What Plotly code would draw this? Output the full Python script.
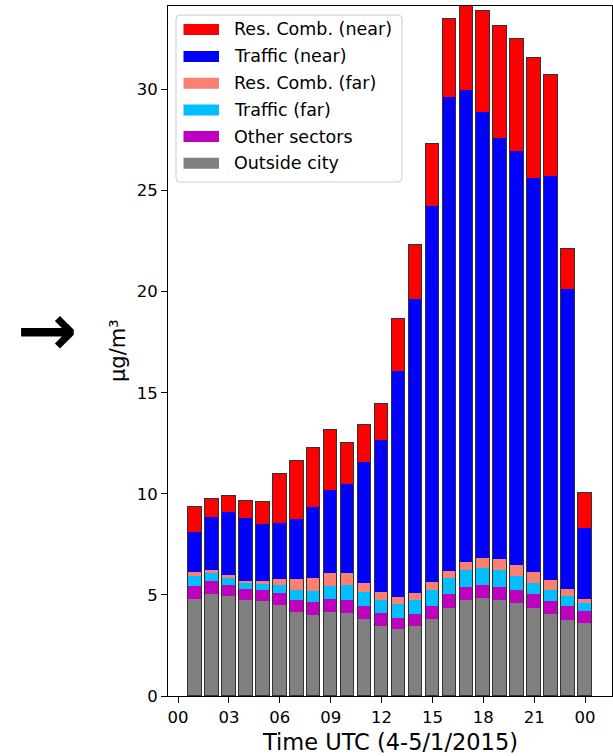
import plotly.graph_objects as go

# Hourly contributions (µg/m³) by source, hours 01..24 UTC
hours = list(range(1, 25))

outside_city = [4.82, 5.07, 4.93, 4.75, 4.70, 4.52, 4.17, 4.02, 4.16, 4.12, 3.80, 3.48,
                3.32, 3.45, 3.81, 4.36, 4.75, 4.87, 4.75, 4.62, 4.36, 4.04, 3.78, 3.60]
other_sectors = [0.63, 0.61, 0.57, 0.55, 0.53, 0.56, 0.60, 0.65, 0.64, 0.65, 0.66, 0.63,
                 0.56, 0.59, 0.65, 0.67, 0.63, 0.63, 0.66, 0.63, 0.69, 0.68, 0.66, 0.61]
traffic_far = [0.49, 0.42, 0.33, 0.28, 0.33, 0.43, 0.46, 0.54, 0.66, 0.74, 0.70, 0.66,
               0.69, 0.71, 0.80, 0.83, 0.86, 0.85, 0.81, 0.69, 0.54, 0.54, 0.53, 0.41]
res_comb_far = [0.20, 0.14, 0.16, 0.13, 0.12, 0.30, 0.55, 0.65, 0.64, 0.56, 0.45, 0.38,
                0.33, 0.36, 0.37, 0.34, 0.41, 0.50, 0.55, 0.55, 0.55, 0.47, 0.34, 0.17]
traffic_near = [1.98, 2.59, 3.09, 3.09, 2.83, 2.77, 2.98, 3.48, 4.11, 4.41, 5.96, 7.51,
                11.19, 14.51, 18.59, 23.45, 23.35, 22.03, 20.85, 20.47, 19.49, 19.98, 14.81, 3.54]
res_comb_near = [1.25, 0.91, 0.82, 0.85, 1.08, 2.39, 2.87, 2.94, 2.97, 2.04, 1.85, 1.77,
                 2.54, 2.69, 3.07, 3.83, 4.11, 5.00, 5.51, 5.56, 5.92, 5.03, 2.00, 1.73]

tick_vals = [0, 3, 6, 9, 12, 15, 18, 21, 24]
tick_text = ["00", "03", "06", "09", "12", "15", "18", "21", "00"]

# stacking order bottom -> top
series = [
    ("Outside city", outside_city, "#808080"),
    ("Other sectors", other_sectors, "#bf00bf"),
    ("Traffic (far)", traffic_far, "#00bfff"),
    ("Res. Comb. (far)", res_comb_far, "#fa8072"),
    ("Traffic (near)", traffic_near, "#0000ff"),
    ("Res. Comb. (near)", res_comb_near, "#ff0000"),
]

FONT = "DejaVu Sans"
FIG_W, FIG_H = 613, 756
M_L, M_R, M_T, M_B = 168, 1, 6, 60
PW = FIG_W - M_L - M_R
PH = FIG_H - M_T - M_B
BOTTOM = FIG_H - M_B
X_RANGE = [-0.59, 25.59]
Y_RANGE = [0, 34.13]


def px_x(p):
    return (p - M_L) / PW


def px_y(p):
    return (BOTTOM - p) / PH


fig = go.Figure()
for name, vals, col in series:
    fig.add_trace(go.Bar(
        x=hours, y=vals, name=name, width=0.8,
        marker=dict(color=col, line=dict(width=0)),
        showlegend=False,
    ))

# outline of each full column, drawn on an overlaid axis pair so it does not stack
totals = [sum(v) for v in zip(*[s[1] for s in series])]
fig.add_trace(go.Bar(
    x=hours, y=totals, width=0.8, xaxis="x2", yaxis="y2",
    marker=dict(color="rgba(0,0,0,0)", line=dict(color="#333333", width=1)),
    showlegend=False, hoverinfo="skip",
))

# hand-drawn legend box (top-left inside the axes)
shapes = []
annotations = []
lx0, lx1, ly0, ly1, r = 176, 402, 15, 182, 4
rx, ry = r / PW, r / PH
X0, X1, Y0, Y1 = px_x(lx0), px_x(lx1), px_y(ly1), px_y(ly0)
path = (f"M{X0+rx},{Y0} L{X1-rx},{Y0} Q{X1},{Y0} {X1},{Y0+ry} "
        f"L{X1},{Y1-ry} Q{X1},{Y1} {X1-rx},{Y1} L{X0+rx},{Y1} "
        f"Q{X0},{Y1} {X0},{Y1-ry} L{X0},{Y0+ry} Q{X0},{Y0} {X0+rx},{Y0} Z")
shapes.append(dict(type="path", xref="paper", yref="paper", path=path,
                   fillcolor="rgba(255,255,255,0.85)",
                   line=dict(color="#cccccc", width=1), layer="above"))

row_y = [29.5, 56.5, 83.3, 110, 136.6, 163.3]
for (name, _, col), cy in zip(reversed(series), row_y):
    shapes.append(dict(type="rect", xref="paper", yref="paper",
                       x0=px_x(183.5), x1=px_x(219), y0=px_y(cy + 5.5), y1=px_y(cy - 5.5),
                       fillcolor=col, line=dict(width=0), layer="above"))
    annotations.append(dict(x=px_x(232), y=px_y(cy), xref="paper", yref="paper",
                            text=name, showarrow=False, xanchor="left", yanchor="middle",
                            font=dict(family=FONT, size=17.5, color="black")))

# axis titles
annotations.append(dict(x=px_x(118), y=0.5, xref="paper", yref="paper", text="μg/m³",
                        textangle=-90, showarrow=False, xanchor="center", yanchor="middle",
                        font=dict(family=FONT, size=21, color="black")))
annotations.append(dict(x=0.5, y=px_y(742), xref="paper", yref="paper",
                        text="Time UTC (4-5/1/2015)", showarrow=False,
                        xanchor="center", yanchor="middle",
                        font=dict(family=FONT, size=22.5, color="black")))
# pointer arrow left of the axis
annotations.append(dict(x=px_x(46.5), y=px_y(330), xref="paper", yref="paper",
                        text="<b>→</b>", showarrow=False, xanchor="center", yanchor="middle",
                        font=dict(family=FONT, size=72, color="black")))

fig.update_layout(
    width=FIG_W, height=FIG_H,
    margin=dict(l=M_L, r=M_R, t=M_T, b=M_B),
    barmode="stack", bargap=0,
    plot_bgcolor="white", paper_bgcolor="white",
    font=dict(family=FONT, color="black"),
    shapes=shapes, annotations=annotations,
    xaxis=dict(range=X_RANGE, tickvals=tick_vals, ticktext=tick_text,
               ticks="outside", ticklen=6, tickwidth=1, tickcolor="black",
               tickfont=dict(family=FONT, size=16.5, color="black"),
               showline=True, linecolor="black", linewidth=1, mirror=True,
               showgrid=False, zeroline=False),
    yaxis=dict(range=Y_RANGE, tickvals=[0, 5, 10, 15, 20, 25, 30],
               ticks="outside", ticklen=6, tickwidth=1, tickcolor="black",
               tickfont=dict(family=FONT, size=16.5, color="black"),
               showline=True, linecolor="black", linewidth=1, mirror=True,
               showgrid=False, zeroline=False),
    xaxis2=dict(range=X_RANGE, overlaying="x", visible=False),
    yaxis2=dict(range=Y_RANGE, overlaying="y", visible=False),
)

fig.write_html("out.html")
